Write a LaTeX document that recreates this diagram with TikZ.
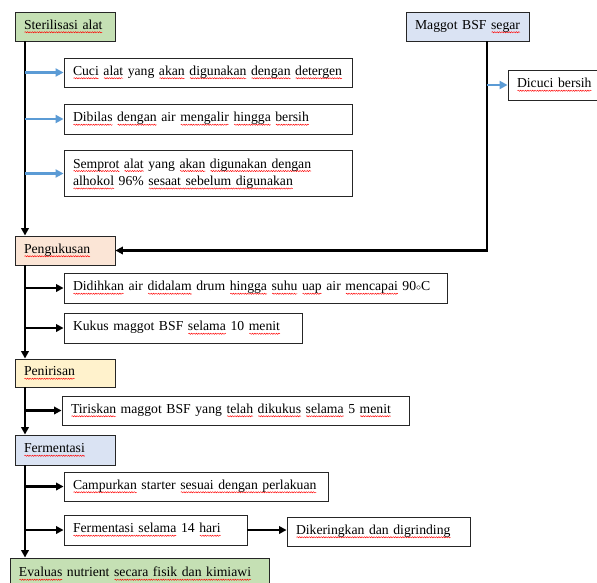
\documentclass[tikz,border=0pt]{standalone}
\usepackage{fontspec}
\setmainfont{Liberation Serif}
\usetikzlibrary{arrows.meta,decorations.pathmorphing}
\newlength\sqlen
\newcommand\sq[1]{\settowidth\sqlen{#1}\leavevmode\rlap{\tikz[overlay,baseline=0pt,x=1pt,y=1pt]\draw[red,line width=0.45pt,decorate,decoration={snake,amplitude=0.6pt,segment length=2.4pt}] (0.5,-3) -- (\sqlen,-3);}#1}
\newcommand\oneline[1]{\mbox{#1}}
\definecolor{grn}{HTML}{C5E0B4}
\definecolor{lblu}{HTML}{DAE3F3}
\definecolor{peach}{HTML}{FBE5D6}
\definecolor{lyel}{HTML}{FFF2CC}
\definecolor{blu}{HTML}{5B9BD5}
\begin{document}
\begin{tikzpicture}[x=1pt,y=-1pt,
  box/.style={draw=black!85, line width=0.9pt, inner xsep=9pt, inner ysep=0pt, align=left,
    font=\fontsize{13.7}{17.5}\selectfont},
  sl/.style={box, text height=9.5pt, text depth=4pt},
  mainln/.style={line width=2.2pt, -{Triangle[length=7.5pt,width=7.5pt]}},
  blueln/.style={draw=blu, line width=2.4pt, -{Triangle[length=8pt,width=8pt]}, blu}]
\useasboundingbox (0,0) rectangle (597,582);
\fill[white] (0,0) rectangle (597,582);
\coordinate (L) at (25,0);
\coordinate (R) at (487,0);
% nodes
\node[sl, fill=grn, text width=82pt, minimum height=29pt] (steril) at (65,26.5) {\oneline{\sq{Sterilisasi alat}}};
\node[sl, fill=lblu, text width=105pt, minimum height=29pt] (maggot) at (467.5,26.5) {\oneline{Maggot BSF \sq{segar}}};
\node[sl, text width=270pt, minimum height=29pt] (cuci) at (208,72.5) {\oneline{\sq{Cuci} \sq{alat} yang \sq{akan} \sq{digunakan} \sq{dengan} \sq{detergen}}};
\node[sl, text width=270pt, minimum height=30pt] (bilas) at (208,119) {\oneline{\sq{Dibilas} \sq{dengan} air \sq{mengalir} \sq{hingga} \sq{bersih}}};
\node[box, text width=270pt, minimum height=46pt] (semprot) at (208,173.5) {\oneline{\sq{Semprot} \sq{alat} yang \sq{akan} \sq{digunakan dengan}}\\\oneline{\sq{alhokol} 96\% \sq{sesaat sebelum digunakan}}};
\node[sl, text width=74pt, minimum height=30pt] (dicuci) at (554,85) {\oneline{\sq{Dicuci bersih}}};
\node[sl, fill=peach, text width=82pt, minimum height=29pt] (peng) at (65,250.5) {\oneline{\sq{Pengukusan}}};
\node[sl, text width=365pt, minimum height=30pt] (didih) at (255.5,288) {\oneline{\sq{Didihkan} air \sq{didalam} drum \sq{hingga} \sq{suhu} \sq{uap} air \sq{mencapai} 90$\scriptstyle\circ$C}};
\node[sl, text width=220pt, minimum height=30pt] (kukus) at (183,328) {\oneline{Kukus maggot BSF \sq{selama} 10 \sq{menit}}};
\node[sl, fill=lyel, text width=82pt, minimum height=28pt] (penir) at (65,373) {\oneline{\sq{Penirisan}}};
\node[sl, text width=329pt, minimum height=29pt] (tiris) at (235.5,410.5) {\oneline{\sq{Tiriskan} maggot BSF yang \sq{telah} \sq{dikukus} \sq{selama} 5 \sq{menit}}};
\node[sl, fill=lblu, text width=82pt, minimum height=30pt] (ferm) at (65,450) {\oneline{\sq{Fermentasi}}};
\node[sl, text width=246pt, minimum height=29pt] (campur) at (196,486.5) {\oneline{\sq{Campurkan} starter \sq{sesuai dengan perlakuan}}};
\node[sl, text width=165pt, minimum height=30pt] (ferm14) at (155.5,530) {\oneline{\sq{Fermentasi selama} 14 \sq{hari}}};
\node[sl, text width=165pt, minimum height=29pt] (kering) at (378.5,531.5) {\oneline{\sq{Dikeringkan dan digrinding}}};
\node[sl, fill=grn, text width=241pt, minimum height=32pt] (eval) at (139.5,574) {\oneline{\sq{Evaluas} nutrient \sq{secara fisik dan kimiawi}}};
% main flow
\draw[mainln] (steril.south -| L) -- (peng.north -| L);
\draw[mainln] (peng.south -| L) -- (penir.north -| L);
\draw[mainln] (penir.south -| L) -- (ferm.north -| L);
\draw[mainln] (ferm.south -| L) -- (eval.north -| L);
\draw[mainln] (maggot.south -| R) |- (peng.east);
% blue branches
\draw[blueln] (cuci.west -| L) -- (cuci.west);
\draw[blueln] (bilas.west -| L) -- (bilas.west);
\draw[blueln] (semprot.west -| L) -- (semprot.west);
\draw[blueln] (dicuci.west -| R) -- (dicuci.west);
% black branches
\draw[mainln] (didih.west -| L) -- (didih.west);
\draw[mainln] (kukus.west -| L) -- (kukus.west);
\draw[mainln] (tiris.west -| L) -- (tiris.west);
\draw[mainln] (campur.west -| L) -- (campur.west);
\draw[mainln] (ferm14.west -| L) -- (ferm14.west);
\draw[mainln] (ferm14.east) -- (kering.west |- ferm14.east);
\end{tikzpicture}
\end{document}
